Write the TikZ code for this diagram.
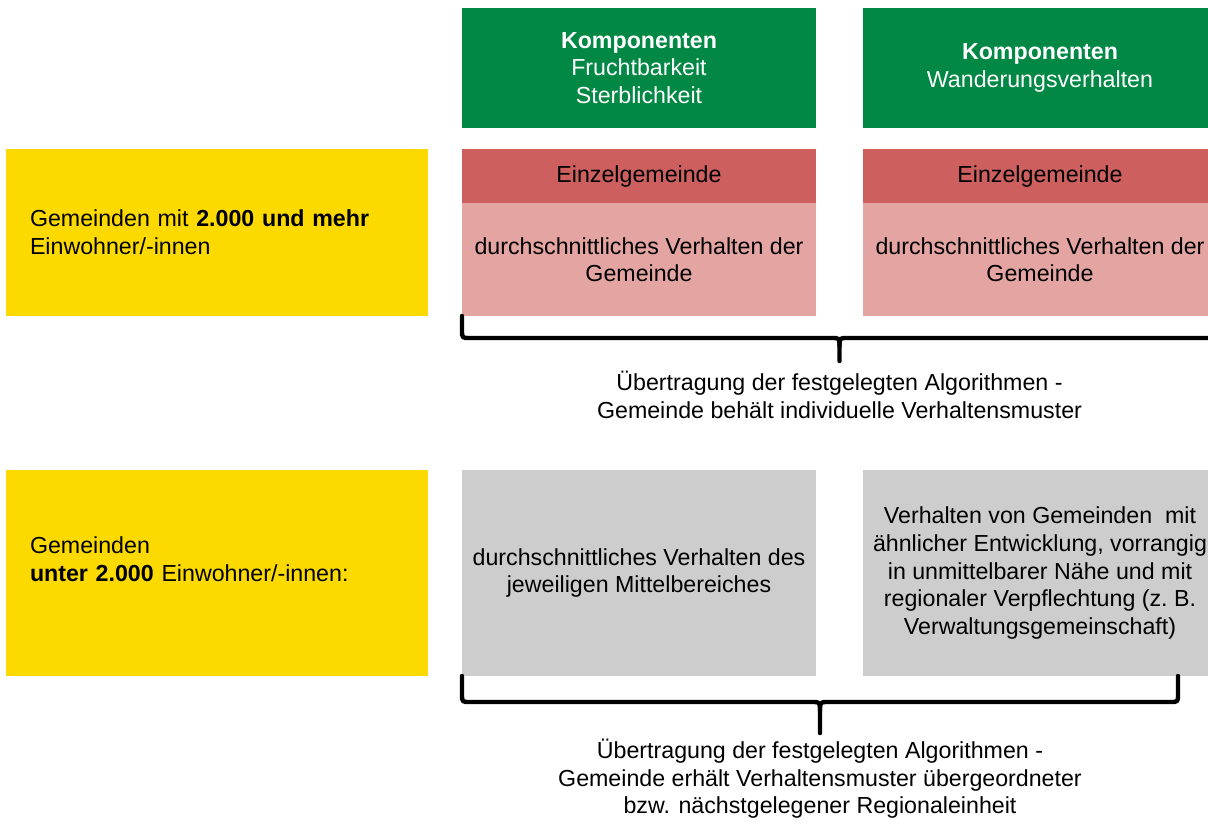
\documentclass[tikz,border=0pt]{standalone}
\usepackage{fontspec}
\setmainfont{Liberation Sans}
\usetikzlibrary{positioning,calc}
\definecolor{gruen}{RGB}{0,136,68}
\definecolor{gelb}{RGB}{252,218,0}
\definecolor{kopfrot}{RGB}{205,95,95}
\definecolor{hellrot}{RGB}{228,164,161}
\definecolor{hellgrau}{RGB}{205,205,205}

\begin{document}
\begin{tikzpicture}[x=0.5pt,y=-0.5pt,
 every node/.style={outer sep=0pt,inner sep=0pt,font=\fontsize{11.6}{13.8}\selectfont},
 feld/.style={minimum width=177pt,align=center},
 komp/.style={feld,fill=gruen,text=white,minimum height=60pt},
 kopf/.style={feld,fill=kopfrot,minimum height=27pt},
 verhalten/.style={feld,fill=hellrot,minimum height=56.5pt},
 grau/.style={feld,fill=hellgrau,minimum height=103pt},
 gruppe/.style={fill=gelb,minimum width=211pt,inner xsep=12pt,text width=187pt,align=left},
 klammer/.style={line width=2.2pt,line cap=round,line join=round},
 txt/.style={align=center}]

  \clip (0,0) rectangle (1208,825);

  \node[gruppe,minimum height=83.5pt,anchor=north west] (gross) at (6,149)
   {Gemeinden mit \textbf{2.000 und mehr}\\Einwohner/-innen};
  \node[kopf,right=17pt of gross.north east,anchor=north west] (ez1) {Einzelgemeinde};
  \node[verhalten,below=0pt of ez1] (dv1) {durchschnittliches Verhalten der\\Gemeinde};
  \node[kopf,right=23.5pt of ez1] (ez2) {Einzelgemeinde};
  \node[verhalten,below=0pt of ez2] (dv2) {durchschnittliches Verhalten der\\Gemeinde};
  \node[komp,above=10.5pt of ez1] (fs) {\textbf{Komponenten}\\Fruchtbarkeit\\Sterblichkeit};
  \node[komp,above=10.5pt of ez2] (wv) {\textbf{Komponenten}\\Wanderungsverhalten};

  \node[gruppe,minimum height=103pt,anchor=north west] (klein) at (6,470)
   {Gemeinden\\\textbf{unter 2.000} Einwohner/-innen:\\\mbox{}};
  \node[grau,right=17pt of klein.north east,anchor=north west] (mb)
   {durchschnittliches Verhalten des\\jeweiligen Mittelbereiches};
  \node[grau,right=23.5pt of mb] (vg)
   {Verhalten von Gemeinden\ \ mit\\ähnlicher Entwicklung, vorrangig\\in unmittelbarer Nähe und mit\\regionaler Verpflechtung (z.~B.\\Verwaltungsgemeinschaft)};

  % Klammer oben
  \coordinate (sp1) at ($(dv1.south west)!0.5!(dv2.south east)+(0,22)$);
  \draw[klammer] (dv1.south west) -- ($(dv1.south west |- sp1)+(0,-8)$)
   .. controls (dv1.south west |- sp1) .. ($(dv1.south west |- sp1)+(8,0)$)
   -- ($(sp1)+(-8,0)$) .. controls (sp1) .. ($(sp1)+(0,8)$) -- ++(0,15) coordinate (spitze1);
  \draw[klammer] (dv2.south east) -- ($(dv2.south east |- sp1)+(0,-8)$)
   .. controls (dv2.south east |- sp1) .. ($(dv2.south east |- sp1)+(-8,0)$)
   -- ($(sp1)+(8,0)$) .. controls (sp1) .. ($(sp1)+(0,8)$);
  \node[txt] (ueb1) at ($(sp1)+(0,57)$)
   {Übertragung der festgelegten Algorithmen -\\Gemeinde behält individuelle Verhaltensmuster};

  % Klammer unten
  \coordinate (r2) at ($(vg.south east)+(-39,0)$);
  \coordinate (sp2) at ($(mb.south west)!0.5!(r2)+(0,26)$);
  \draw[klammer] (mb.south west) -- ($(mb.south west |- sp2)+(0,-8)$)
   .. controls (mb.south west |- sp2) .. ($(mb.south west |- sp2)+(8,0)$)
   -- ($(sp2)+(-8,0)$) .. controls (sp2) .. ($(sp2)+(0,9)$) -- ++(0,22) coordinate (spitze2);
  \draw[klammer] (r2) -- ($(r2 |- sp2)+(0,-8)$)
   .. controls (r2 |- sp2) .. ($(r2 |- sp2)+(-8,0)$)
   -- ($(sp2)+(8,0)$) .. controls (sp2) .. ($(sp2)+(0,9)$);
  \node[txt] (ueb2) at ($(sp2)+(0,77)$)
   {Übertragung der festgelegten Algorithmen -\\Gemeinde erhält Verhaltensmuster übergeordneter\\bzw. nächstgelegener Regionaleinheit};
\end{tikzpicture}
\end{document}
